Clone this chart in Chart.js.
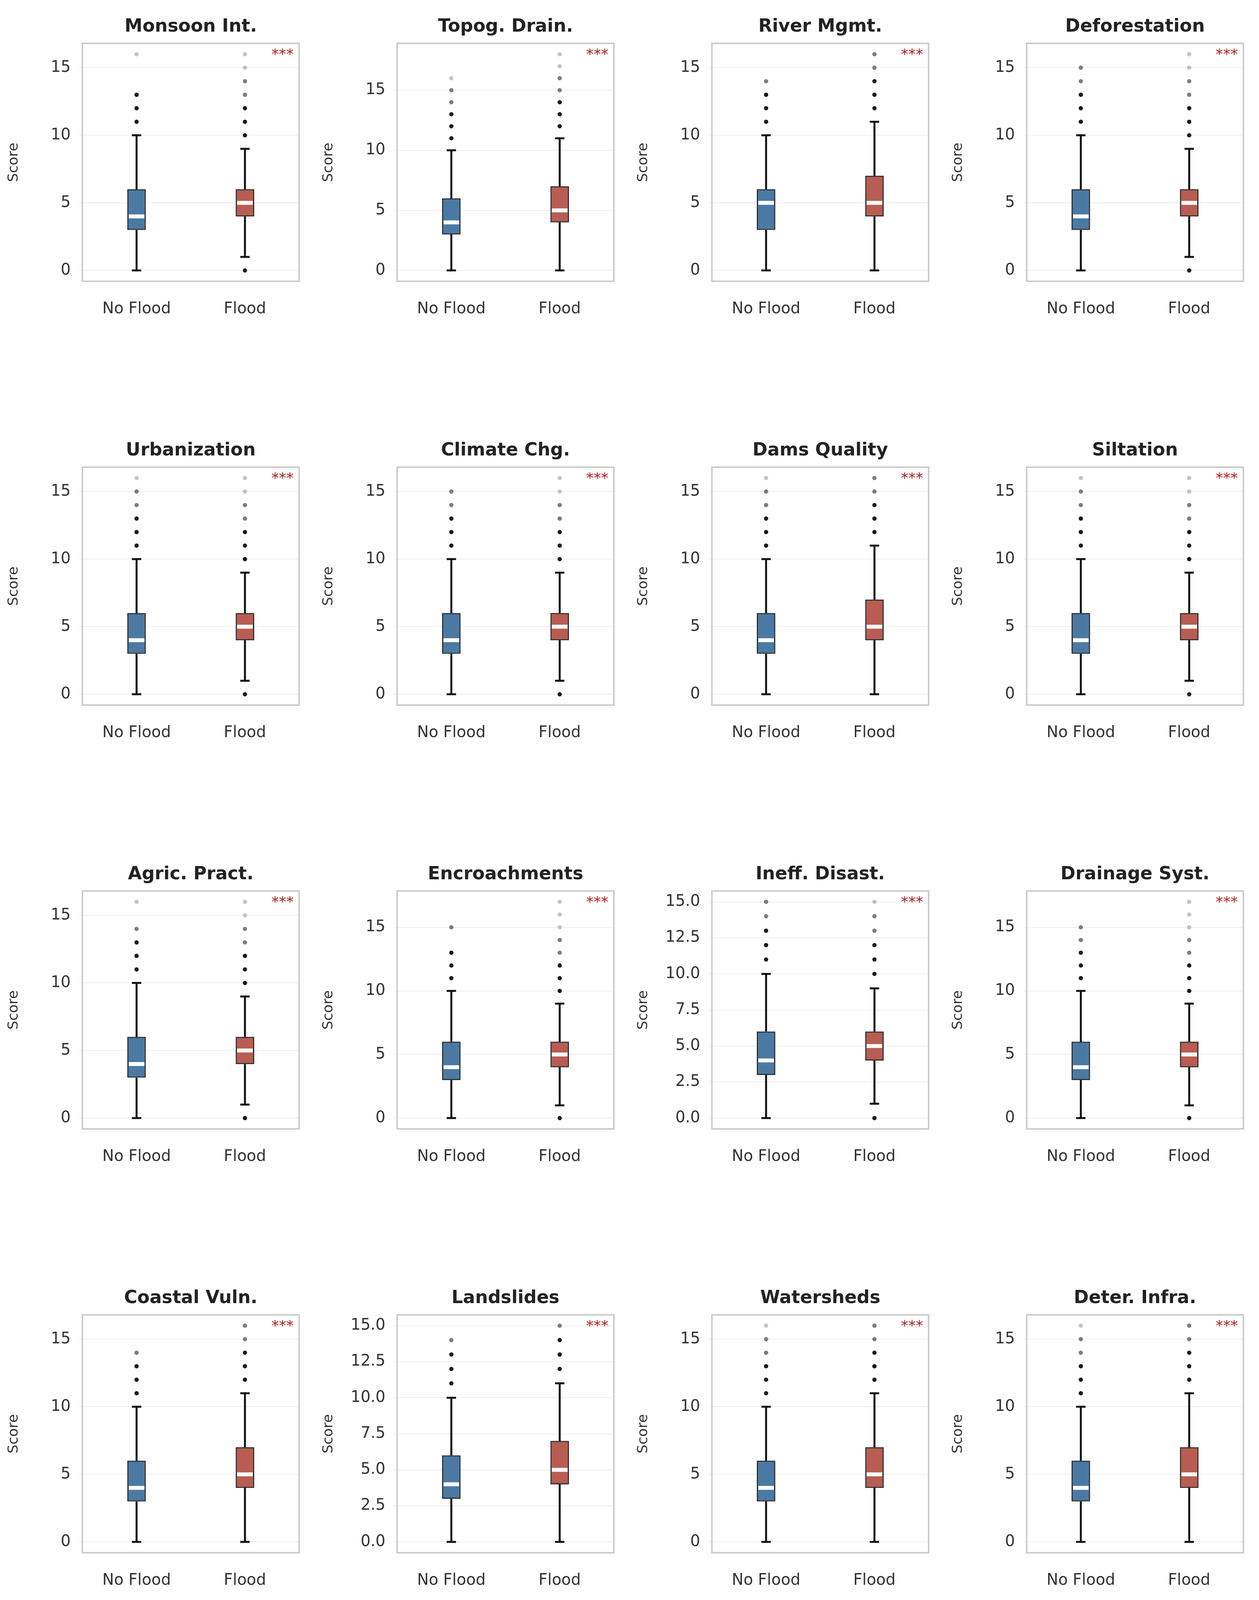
<!DOCTYPE html>
<html style="margin:0;padding:0"><head><meta charset="utf-8">
<script src="https://cdn.jsdelivr.net/npm/chart.js@4.4.0/dist/chart.umd.min.js"></script>
<style>html,body{margin:0;padding:0;background:#fff}#wrap{width:3224px;height:5204px;display:flex;flex-wrap:wrap;align-content:flex-start}#wrap>div{width:806px;height:1085px;position:relative}canvas{position:absolute;left:10px;top:0}</style>
</head><body><div id="wrap"></div>
<script>
const titles=["Monsoon Int.","Topog. Drain.","River Mgmt.","Deforestation","Urbanization","Climate Chg.","Dams Quality","Siltation","Agric. Pract.","Encroachments","Ineff. Disast.","Drainage Syst.","Coastal Vuln.","Landslides","Watersheds","Deter. Infra.","Pop. Score","Wetland Loss","Inad. Plan.","Polit. Factors"];
const groups=["No Flood","Flood"];
// [min,q1,median,q3,max]
const noFloodStats=[[0,3,4,6,10],[0,3,4,6,10],[0,3,5,6,10],[0,3,4,6,10],[0,3,4,6,10],[0,3,4,6,10],[0,3,4,6,10],[0,3,4,6,10],[0,3,4,6,10],[0,3,4,6,10],[0,3,4,6,10],[0,3,4,6,10],[0,3,4,6,10],[0,3,4,6,10],[0,3,4,6,10],[0,3,4,6,10],[0,3,4,6,10],[0,3,4,6,10],[0,3,4,6,10],[0,3,4,6,10]];
const floodStats=[[1,4,5,6,9],[0,4,5,7,11],[0,4,5,7,11],[1,4,5,6,9],[1,4,5,6,9],[1,4,5,6,9],[0,4,5,7,11],[1,4,5,6,9],[1,4,5,6,9],[1,4,5,6,9],[1,4,5,6,9],[1,4,5,6,9],[0,4,5,7,11],[0,4,5,7,11],[0,4,5,7,11],[0,4,5,7,11],[1,4,5,6,9],[0,4,5,7,11],[0,4,5,7,11],[1,4,5,6,9]];
const noFloodOut=[[11,12,13,16],[11,12,13,14,15,16],[11,12,13,14],[11,12,13,14,15],[11,12,13,14,15,16],[11,12,13,14,15],[11,12,13,14,15,16],[11,12,13,14,15,16],[11,12,13,14,16],[11,12,13,15],[11,12,13,14,15],[11,12,13,14,15],[11,12,13,14],[11,12,13,14],[11,12,13,14,15,16],[11,12,13,14,15,16],[11,12,13,14],[11,12,13,14],[11,12,13,14,15,16],[11,12,13,14,15]];
const floodOut=[[0,10,11,12,13,14,15,16],[12,13,14,15,16,17,18],[12,13,14,15,16],[0,10,11,12,13,14,15,16],[0,10,11,12,13,14,15,16],[0,10,11,12,13,14,15,16],[12,13,14,15,16],[0,10,11,12,13,14,15,16],[0,10,11,12,13,14,15,16],[0,10,11,12,13,14,15,16,17],[0,10,11,12,13,14,15],[0,10,11,12,13,14,15,16,17],[12,13,14,15,16],[12,13,14,15],[12,13,14,15,16],[12,13,14,15,16],[0,10,11,12,13,14,15,16],[12,13,14,15,16],[12,13,14,15],[0,10,11,12,13,14,15,16]];
const sigLabels=Array(20).fill("***");

const FONT="'DejaVu Sans'";
const colors=["#4a7aa3","#b95d52"];
function outColor(v,top){const d=v-top;if(d<=3)return 'rgba(0,0,0,0.9)';if(d<=5)return 'rgba(40,40,40,0.6)';return 'rgba(90,90,90,0.35)';}
const wrap=document.getElementById('wrap');
titles.forEach((t,i)=>{
  const cell=document.createElement('div');wrap.appendChild(cell);
  const cv=document.createElement('canvas');
  const W=780,H=880;
  cv.width=W;cv.height=H;cv.style.width=W+'px';cv.style.height=H+'px';
  cell.appendChild(cv);
  const stats=[noFloodStats[i],floodStats[i]];
  const outs=[noFloodOut[i],floodOut[i]];
  let mx=Math.max(...stats.map(s=>s[4]),...outs.map(o=>Math.max(...o)));
  const mn=0;
  const pad=(mx-mn)*0.05;
  const step=mx<=15?2.5:5;
  const tickVals=[];for(let v=0;v<=mx+1e-9;v+=step)tickVals.push(v);
  const datasets=[];
  [0,1].forEach(g=>{
    datasets.push({type:'bar',data:[{x:g,y:[stats[g][1],stats[g][3]]}],backgroundColor:colors[g],borderColor:'#333',borderWidth:3,borderSkipped:false,barThickness:47,grouped:false,order:2});
  });
  [0,1].forEach(g=>{
    const top=stats[g][4];
    datasets.push({type:'scatter',data:outs[g].map(v=>({x:g,y:v})),pointRadius:5.5,pointBorderWidth:0,
      pointBackgroundColor:outs[g].map(v=>v<stats[g][0]?'rgba(0,0,0,0.9)':outColor(v,top)),order:1});
  });
  const plug={id:'bx',
    beforeDatasetsDraw(c){const x=c.scales.x,y=c.scales.y,ctx=c.ctx;ctx.save();ctx.strokeStyle='#111';ctx.lineWidth=5;
      stats.forEach((s,g)=>{const px=x.getPixelForValue(g);
        ctx.beginPath();ctx.moveTo(px,y.getPixelForValue(s[0]));ctx.lineTo(px,y.getPixelForValue(s[1]));
        ctx.moveTo(px,y.getPixelForValue(s[3]));ctx.lineTo(px,y.getPixelForValue(s[4]));
        [s[0],s[4]].forEach(v=>{const py=y.getPixelForValue(v);ctx.moveTo(px-12,py);ctx.lineTo(px+12,py);});
        ctx.stroke();});
      ctx.restore();},
    afterDatasetsDraw(c){const x=c.scales.x,y=c.scales.y,ctx=c.ctx,a=c.chartArea;ctx.save();
      stats.forEach((s,g)=>{const px=x.getPixelForValue(g),py=y.getPixelForValue(s[2]);
        ctx.fillStyle='#fff';ctx.fillRect(px-20,py-5,40,10);});
      ctx.fillStyle='#b22222';ctx.font='38px '+FONT;ctx.textAlign='right';ctx.textBaseline='top';
      ctx.fillText(sigLabels[i],a.right-14,a.top+12);
      ctx.strokeStyle='#cccccc';ctx.lineWidth=4;ctx.strokeRect(a.left,a.top,a.right-a.left,a.bottom-a.top);
      ctx.fillStyle='#222';ctx.font='bold 46px '+FONT;ctx.textAlign='center';ctx.textBaseline='alphabetic';
      ctx.fillText(t,(a.left+a.right)/2,a.top-30);
      ctx.restore();}
  };
  new Chart(cv,{data:{datasets},plugins:[plug],options:{responsive:false,animation:false,devicePixelRatio:1,
    layout:{padding:{top:111,right:24,bottom:0,left:0}},
    plugins:{legend:{display:false},tooltip:{enabled:false}},
    scales:{
      x:{type:'linear',offset:false,min:-0.5,max:1.5,afterBuildTicks(s){s.ticks=[{value:0},{value:1}];},
        afterFit(s){s.height=160;},
        ticks:{callback:v=>groups[v],color:'#333',font:{family:FONT,size:40},padding:40},
        grid:{display:false,offset:false},border:{display:false}},
      y:{min:mn-pad,max:mx+pad,afterBuildTicks(s){s.ticks=tickVals.map(v=>({value:v}));},
        afterFit(s){s.width=201;},
        ticks:{callback:v=>step===2.5?v.toFixed(1):String(v),color:'#333',font:{family:FONT,size:40},padding:22},
        title:{display:true,text:'Score',color:'#333',font:{family:FONT,size:36}},
        grid:{color:'#eeeeee',lineWidth:2},border:{display:false}}
    }}});
});
</script>
</body></html>
